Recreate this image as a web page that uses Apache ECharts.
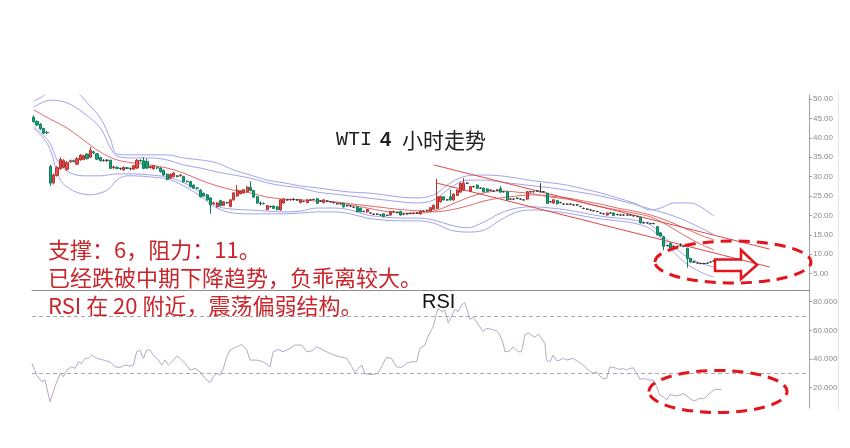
<!DOCTYPE html>
<html><head><meta charset="utf-8">
<script src="https://cdn.jsdelivr.net/npm/echarts@6/dist/echarts.min.js"></script>
<style>html,body{margin:0;padding:0;background:#fff}#c{width:850px;height:448px}</style>
</head><body><div id="c"></div>
<script>
// ---- price candles: [open, close, low, high] ----
const candles = [
[45.3,44.2,43.8,45.8],[44.2,43.3,43.0,44.5],[43.5,42.3,42.0,43.8],[42.4,41.2,40.9,42.6],[41.4,41.3,40.9,41.7],
[32.6,28.3,27.6,33.0],[28.4,30.4,28.0,30.8],[30.3,32.3,30.0,32.7],[32.0,34.4,31.8,35.0],[32.4,34.1,32.2,34.5],
[31.9,33.6,31.5,34.0],[33.8,34.1,33.6,34.4],[34.1,33.9,33.6,34.4],[33.2,34.6,33.0,35.0],[34.3,35.5,34.1,35.8],
[34.4,35.4,34.2,35.6],[35.8,34.6,34.4,36.0],[35.0,36.8,34.8,37.6],[36.4,36.1,35.8,36.7],[35.9,34.5,34.3,36.1],
[34.9,34.1,33.9,35.1],[34.1,34.1,33.9,34.5],[34.2,34.2,33.8,34.5],[34.2,32.1,31.9,34.4],[32.3,32.5,32.0,32.8],
[32.4,32.1,31.9,32.6],[32.1,32.1,31.7,32.3],[31.7,32.4,31.5,32.6],[32.3,32.1,31.9,32.5],[32.1,32.1,31.6,32.3],
[31.9,32.8,31.7,33.0],[32.2,34.2,32.0,34.5],[34.2,34.0,33.7,34.4],[34.1,32.1,31.9,35.0],[33.9,32.2,32.0,34.6],
[32.3,32.6,32.1,32.8],[32.0,32.8,31.8,33.0],[32.4,32.2,31.9,32.6],[32.2,31.3,31.0,32.4],[31.6,30.4,30.2,31.8],
[30.6,29.3,29.0,30.8],[29.6,30.6,29.4,30.8],[30.0,30.9,29.8,31.2],[30.2,30.0,29.8,30.4],[30.2,30.4,30.0,30.6],
[30.0,28.7,28.5,30.2],[28.8,28.7,28.4,29.0],[28.7,27.4,27.2,28.9],[27.8,27.0,26.8,28.0],[27.1,27.0,26.7,27.3],
[26.5,24.8,24.6,26.8],[25.7,25.0,24.8,25.9],[25.3,24.0,23.8,25.5],[24.5,22.7,20.4,24.7],[23.0,23.2,22.8,23.4],
[22.2,23.2,22.0,23.4],[23.8,22.5,22.3,24.0],[22.6,23.5,22.4,23.7],[23.3,23.3,23.0,23.5],[22.3,24.0,22.1,24.2],
[24.0,25.8,23.8,26.0],[25.0,26.5,24.8,27.8],[25.6,26.3,25.4,26.5],[25.8,26.6,25.6,26.8],[26.1,27.3,25.9,27.5],
[27.2,26.4,26.2,28.8],[26.4,24.7,24.5,26.6],[24.8,23.2,23.0,25.0],[23.1,23.1,22.6,23.6],[23.1,23.0,22.8,23.3],
[21.5,22.5,21.3,22.7],[22.3,22.3,22.0,22.5],[22.4,21.8,21.6,22.6],[22.2,21.5,21.3,22.4],[21.4,24.0,21.2,24.2],
[23.2,24.2,23.0,24.4],[24.0,24.0,23.8,24.2],[24.0,24.1,23.8,24.3],[24.1,24.1,23.8,24.5],[24.0,24.0,23.8,24.2],
[23.3,24.0,23.1,24.2],[23.6,23.6,23.4,23.8],[23.3,24.0,23.1,24.2],[24.0,24.0,23.8,24.2],[24.1,24.1,23.9,24.3],
[24.3,23.1,22.9,24.5],[23.7,23.7,23.5,23.9],[23.3,24.0,23.1,24.2],[23.7,23.7,23.5,23.9],[23.5,23.5,23.3,23.7],
[23.3,23.3,23.1,23.5],[23.0,23.0,22.8,23.2],[23.0,23.0,22.8,23.2],[23.1,22.2,22.0,23.3],[22.5,22.5,22.3,22.7],
[22.4,22.4,22.2,22.6],[22.1,22.1,21.9,22.3],[22.2,21.0,20.8,22.4],[21.8,21.0,20.8,22.0],[21.0,21.0,20.8,21.2],
[20.9,21.5,20.7,21.7],[20.6,20.6,20.4,20.8],[20.3,20.3,20.1,20.5],[20.3,20.3,20.1,20.5],[20.1,20.1,19.9,20.3],
[20.4,19.7,19.5,20.6],[20.0,20.0,19.8,20.2],[20.1,21.0,19.9,21.2],[21.0,21.0,20.8,21.2],[20.8,20.8,20.6,21.0],
[21.0,20.1,19.9,21.2],[20.3,20.3,20.1,20.5],[20.4,20.4,20.2,20.6],[20.5,20.5,20.3,20.7],[20.5,20.6,20.3,20.8],
[20.6,20.6,20.4,20.8],[20.4,21.1,20.2,21.3],[21.1,21.1,20.9,21.3],[21.3,21.3,21.1,21.5],[21.1,22.0,20.9,22.2],
[21.6,22.6,21.4,22.8],[21.8,24.8,21.6,29.4],[23.5,24.8,23.3,25.0],[24.8,24.0,23.8,25.0],[24.0,24.0,23.8,24.2],
[24.8,24.0,23.8,26.6],[24.0,25.5,23.8,25.7],[25.2,26.5,25.0,26.7],[26.0,28.3,25.8,28.5],[26.5,28.3,26.3,29.6],
[28.3,28.3,28.1,28.5],[26.2,27.4,26.0,27.6],[27.4,27.4,27.2,27.6],[27.8,27.0,26.8,28.0],[27.0,27.0,26.8,27.2],
[27.0,26.1,25.9,27.2],[26.8,26.2,26.0,27.0],[26.5,26.5,26.3,26.7],[26.3,26.3,26.1,26.5],[26.5,26.5,26.3,26.7],
[26.9,26.0,25.8,27.5],[26.1,26.1,25.9,26.3],[26.1,24.0,23.8,26.3],[24.2,24.2,24.0,24.4],[24.2,24.2,24.0,24.4],
[24.4,24.4,24.2,24.6],[24.2,24.2,24.0,24.4],[24.0,24.0,23.8,24.2],[24.2,26.1,24.0,26.3],[26.1,26.1,25.9,26.3],
[26.1,26.1,25.9,26.3],[26.3,26.3,26.1,26.5],[26.1,26.1,25.9,28.3],[26.1,26.1,25.9,26.3],[25.7,23.1,22.9,25.9],
[23.5,23.5,23.3,23.7],[23.2,24.0,23.0,24.2],[23.8,23.0,22.8,24.0],[23.3,23.3,23.1,23.5],[22.9,22.9,22.7,23.1],
[22.9,22.9,22.7,23.1],[22.9,22.9,22.7,23.1],[22.7,22.7,22.5,22.9],[22.7,22.7,22.5,22.9],[22.3,22.3,22.1,22.5],
[21.8,21.8,21.6,22.0],[21.6,21.6,21.4,21.8],[21.4,21.4,21.2,21.6],[21.2,21.2,21.0,21.4],[21.0,21.0,20.8,21.2],
[20.6,20.6,20.4,20.8],[20.4,20.4,20.2,20.6],[20.1,20.6,19.9,20.8],[20.6,20.6,20.4,20.8],[20.6,20.0,19.8,20.8],
[20.2,20.2,20.0,20.4],[20.1,20.1,19.9,20.3],[20.1,20.1,19.9,20.3],[20.1,20.1,19.9,20.3],[20.1,20.1,19.9,20.3],
[19.9,19.9,19.7,20.1],[19.7,19.7,19.5,19.9],[19.5,18.1,17.9,19.7],[18.1,18.1,17.9,18.3],[18.1,18.1,17.9,18.3],
[17.9,17.9,17.7,18.1],[17.9,17.9,17.7,18.1],[17.1,15.0,14.8,17.3],[15.5,14.7,14.5,15.7],[14.5,12.0,11.0,14.7],
[12.2,12.2,12.0,12.4],[12.8,11.5,11.3,13.0],[12.0,12.0,11.8,12.2],[12.0,12.0,11.8,12.2],[12.2,12.2,12.0,12.8],
[12.0,12.0,11.8,12.2],[11.5,8.9,6.5,11.7],[8.9,8.0,7.8,9.1],[8.0,8.0,7.8,8.2],[7.7,7.7,7.5,7.9],
[7.6,7.6,7.4,7.8],[7.6,7.6,7.4,7.8],[7.7,7.7,7.5,7.9],[8.0,8.0,7.8,8.2],[8.2,8.2,8.0,8.4]
];
const slotCount = 233;

// ---- indicator lines: [candle index, value] ----
const upperOuter = [[0,49.5],[3,50.8],[5,52.3],[10,53.6],[14,51.0],[15,50.0],[20,45.1],[23,39.7],[25,35.8],[30,35.6],[35,35.6],[40,35.6],[45,34.8],[50,34.3],[55,33.5],[60,31.7],[65,30.4],[70,29.1],[75,28.4],[80,27.6],[85,27.1],[90,26.5],[95,26.0],[100,25.8],[105,25.3],[110,24.7],[115,24.5],[120,25.3],[125,28.4],[130,30.2],[135,30.4],[140,30.2],[145,29.6],[150,28.9],[155,28.4],[160,27.8],[165,26.8],[170,25.8],[175,24.5],[180,23.2],[185,21.4],[188,21.9],[192,23.2],[197,23.2],[200,22.2],[204,19.8]];
const upperInner = [[0,47.9],[5,49.7],[10,49.0],[15,46.4],[20,42.5],[23,37.4],[25,35.3],[30,34.8],[35,34.8],[40,34.3],[45,33.0],[50,32.2],[55,31.2],[60,30.4],[65,29.6],[70,28.4],[75,27.6],[80,27.1],[85,26.0],[90,25.5],[95,25.0],[100,24.5],[105,24.0],[110,23.5],[115,23.2],[120,24.0],[125,27.1],[130,29.1],[135,29.1],[140,28.6],[145,28.1],[150,27.6],[155,27.1],[160,26.5],[165,25.8],[170,25.0],[175,24.0],[180,22.9],[185,21.6],[190,20.4],[195,18.8],[200,16.8],[204,15.0]];
const midFast = [[0,47.2],[5,44.8],[10,42.5],[15,39.4],[20,36.3],[25,34.3],[30,33.5],[35,33.0],[40,32.2],[45,30.9],[50,29.1],[55,27.6],[60,26.5],[65,25.8],[70,24.7],[75,24.2],[80,24.0],[85,23.7],[90,23.5],[95,22.7],[100,21.9],[105,21.1],[110,20.6],[115,20.6],[120,21.1],[125,22.7],[130,24.5],[135,25.8],[140,26.3],[145,26.0],[150,25.5],[155,24.7],[160,24.2],[165,23.2],[170,22.2],[175,21.4],[180,20.6],[185,19.6],[190,17.5],[195,14.9],[200,12.6],[204,11.1]];
const midSlow = [[85,23.8],[90,23.5],[95,23.0],[100,22.5],[105,22.0],[110,21.5],[115,21.2],[120,20.9],[125,21.4],[130,22.4],[135,23.7],[140,24.5],[145,25.0],[150,25.3],[155,25.0],[160,24.5],[165,23.7],[170,22.9],[175,21.9],[180,21.1],[185,20.1],[190,18.6],[195,16.8],[200,14.9],[204,13.7]];
const lowerInner = [[0,43.0],[3,40.5],[5,38.5],[7,34.3],[10,31.4],[15,30.2],[20,30.2],[25,30.7],[30,30.7],[35,30.4],[40,29.9],[45,28.4],[50,26.0],[55,22.4],[60,21.6],[65,21.4],[70,21.1],[75,20.9],[80,21.1],[85,21.9],[90,21.9],[95,21.4],[100,20.1],[105,19.6],[110,19.3],[115,19.3],[120,18.8],[125,17.5],[130,16.8],[135,18.3],[140,20.6],[145,21.9],[150,22.2],[155,21.9],[160,21.4],[165,20.6],[170,19.8],[175,19.3],[180,18.8],[185,17.5],[190,13.7],[195,9.8],[200,7.7],[204,6.7]];
const lowerOuter = [[0,42.5],[3,39.8],[5,36.9],[8,29.1],[12,26.3],[17,25.3],[22,26.5],[25,29.1],[28,30.2],[30,30.2],[35,29.9],[40,29.4],[45,27.6],[50,25.0],[55,21.9],[60,20.6],[65,20.4],[70,20.4],[75,20.4],[80,20.6],[85,20.9],[90,20.9],[95,20.4],[100,19.3],[105,18.8],[110,18.6],[115,18.6],[120,18.0],[125,16.2],[130,15.7],[135,16.2],[140,18.8],[145,20.9],[150,21.4],[155,21.1],[160,20.6],[165,19.8],[170,19.1],[175,18.6],[180,18.0],[185,16.5],[190,12.4],[195,8.0],[200,5.4],[204,4.1]];
const trendUpper = [[120,33.0],[220.7,11.3]];
const trendLower = [[120.6,28.4],[220.7,6.7]];

// ---- RSI: [candle index, value] ----
const rsi = [[-0.5,36.9],[0.9,28.7],[2.4,24.1],[3.4,25.2],[4.9,10.1],[6.4,20.6],[7.9,29.9],[8.9,27.6],[9.9,32.2],[11.4,34.5],[12.4,33.4],[13.4,38.0],[14.4,36.9],[15.4,40.4],[16.4,40.4],[17.4,42.7],[18.9,40.4],[20.9,39.2],[22.9,38.0],[24.4,34.5],[25.9,34.1],[27.4,35.7],[28.9,35.0],[29.9,35.7],[30.9,45.0],[31.9,46.2],[32.9,40.4],[33.9,46.2],[34.9,46.2],[35.9,42.7],[37.4,39.2],[38.4,35.7],[39.4,39.2],[40.4,35.7],[41.9,39.2],[42.9,42.0],[43.9,40.4],[45.4,36.9],[46.9,32.2],[48.4,33.4],[49.9,31.0],[51.4,26.4],[52.9,23.4],[53.9,27.6],[54.9,29.9],[55.9,28.7],[56.9,33.4],[57.9,41.5],[58.9,46.2],[60.9,48.5],[62.4,50.2],[63.9,46.2],[64.9,39.2],[66.9,39.2],[68.8,38.0],[70.9,34.5],[71.8,45.0],[73.3,46.7],[74.8,45.0],[76.9,47.4],[78.3,49.7],[80.4,49.7],[81.9,45.0],[83.4,45.7],[84.9,48.5],[86.8,46.2],[88.8,43.9],[90.9,42.0],[93.9,40.4],[95.4,34.5],[96.3,30.3],[97.3,33.4],[98.4,35.7],[99.3,29.9],[100.3,29.2],[101.8,29.2],[103.3,29.9],[104.3,34.5],[105.8,41.1],[107.3,40.4],[108.8,34.5],[110.3,34.1],[111.8,36.9],[113.3,38.0],[114.8,38.0],[115.8,47.4],[117.3,49.7],[118.5,57.0],[119.8,62.5],[120.8,71.9],[121.3,75.4],[122.3,73.0],[123.3,74.2],[124.3,65.3],[125.3,69.5],[126.3,74.7],[127.3,73.0],[128.3,77.7],[129.3,79.3],[130.3,71.9],[130.8,67.7],[131.8,69.1],[132.8,66.0],[133.8,62.5],[134.8,59.0],[135.8,61.4],[137.3,60.7],[138.8,59.7],[139.8,56.7],[140.8,50.9],[141.3,45.0],[142.8,45.7],[143.8,48.5],[145.3,45.0],[146.3,45.0],[147.3,56.7],[148.3,58.3],[149.3,56.7],[150.3,55.1],[151.3,57.4],[152.3,54.4],[153.3,50.9],[153.8,39.2],[154.8,38.0],[155.8,42.7],[156.8,38.7],[157.8,39.2],[158.8,40.4],[159.8,39.2],[161.8,40.4],[163.3,38.0],[164.8,35.7],[166.3,32.2],[167.8,29.9],[168.8,31.0],[169.8,28.0],[170.8,26.2],[171.8,26.2],[172.8,34.5],[173.8,34.1],[174.8,33.4],[175.8,32.7],[176.8,33.4],[177.8,32.2],[178.8,33.4],[179.8,33.8],[180.8,30.3],[181.8,25.7],[182.8,26.4],[183.8,25.7],[184.8,25.2],[185.8,25.2],[186.8,20.6],[187.8,14.7],[188.8,13.6],[189.8,11.3],[190.8,15.2],[192.3,14.1],[193.8,14.8],[194.8,15.9],[195.8,14.1],[196.8,12.4],[197.8,10.6],[198.8,11.3],[199.8,12.4],[200.9,12.2],[201.9,14.1],[203.3,17.1],[204.3,18.7],[206.3,18.7]];
const rsiLevels = [70, 30];
const priceTicks = [5,10,15,20,25,30,35,40,45,50];
const rsiTicks = [20,40,60,80];

const slots = Array.from({length: slotCount}, (_, i) => String(i));
const BLUE = '#a3a3ec', RED = '#e26a6a', TREND = '#e04848';
function band(data, color) {
  return {type:'line', xAxisIndex:1, yAxisIndex:0, data, symbol:'none', smooth:0.35,
    lineStyle:{color, width:1}, silent:true, z:3};
}

const chart = echarts.init(document.getElementById('c'));
chart.setOption({
  animation:false,
  backgroundColor:'#fff',
  grid:[
    {left:32, right:41, top:95, height:195},
    {left:32, right:41, top:290, height:118}
  ],
  xAxis:[
    {type:'category', gridIndex:0, data:slots, boundaryGap:true,
     axisLine:{show:true, onZero:false, lineStyle:{color:'#8c8c8c', width:1}}, axisTick:{show:false}, axisLabel:{show:false}, splitLine:{show:false}},
    {type:'value', gridIndex:0, min:-0.5, max:slotCount-0.5, show:false, axisLine:{onZero:false}},
    {type:'value', gridIndex:1, min:-0.5, max:slotCount-0.5, show:false, axisLine:{onZero:false}}
  ],
  yAxis:[
    {type:'value', gridIndex:0, position:'right', min:0.77, max:51.03, splitLine:{show:false},
     axisLine:{show:true, onZero:false, lineStyle:{color:'#a0a0a0'}},
     axisTick:{show:true, length:3, customValues:priceTicks, lineStyle:{color:'#a0a0a0'}},
     axisLabel:{customValues:priceTicks, formatter:v=>v.toFixed(2), color:'#8a8a8a', fontSize:8, margin:4, fontFamily:'Liberation Sans'}},
    {type:'value', gridIndex:1, position:'right', min:5.7, max:88.2, splitLine:{show:false},
     axisLine:{show:true, onZero:false, lineStyle:{color:'#a0a0a0'}},
     axisTick:{show:true, length:3, customValues:rsiTicks, lineStyle:{color:'#a0a0a0'}},
     axisLabel:{customValues:rsiTicks, formatter:v=>v.toFixed(4), color:'#8a8a8a', fontSize:8, margin:4, fontFamily:'Liberation Sans'}}
  ],
  series:[
    band(upperOuter, BLUE), band(upperInner, BLUE), band(lowerInner, BLUE), band(lowerOuter, BLUE),
    band(midSlow, RED), band(midFast, RED),
    {type:'line', xAxisIndex:1, yAxisIndex:0, data:trendUpper, symbol:'none', lineStyle:{color:TREND, width:1}, z:4, clip:false},
    {type:'line', xAxisIndex:1, yAxisIndex:0, data:trendLower, symbol:'none', lineStyle:{color:TREND, width:1}, z:4, clip:false},
    {type:'candlestick', xAxisIndex:0, yAxisIndex:0, data:candles, barWidth:2.6, z:5,
     itemStyle:{color:'#e4504c', color0:'#18a076', borderColor:'#b83030', borderColor0:'#10805c', borderColorDoji:'#3a3a3a', borderWidth:1}},
    {type:'line', xAxisIndex:2, yAxisIndex:1, data:rsi, symbol:'none', lineStyle:{color:'#b9a7c3', width:1},
     markLine:{silent:true, symbol:'none', label:{show:false},
       lineStyle:{color:'#a8a8a8', type:[4,3], width:1},
       data:rsiLevels.map(v=>({yAxis:v}))}}
  ],
  graphic:[
    {type:'rect', shape:{x:838, y:288, width:12, height:140}, style:{fill:'#fff'}, z:100},
    {type:'line', shape:{x1:838.5, y1:92, x2:838.5, y2:410}, style:{stroke:'#e4e4e4', lineWidth:1}, z:101},
    {type:'text', x:336, y:140, style:{text:'WTI', fill:'#222', font:'20px "Liberation Mono"', verticalAlign:'middle'}, z:50},
    {type:'text', x:380, y:140, style:{text:'4', fill:'#222', font:'bold 20px "Liberation Sans"', verticalAlign:'middle'}, z:50},
    {type:'text', x:402, y:140, style:{text:'小时走势', fill:'#222', font:'21px "Noto Sans CJK SC"', verticalAlign:'middle'}, z:50},
    {type:'text', x:48, y:249.5, style:{text:'支撑：6，阻力：11。', fill:'#c8262c', font:'22px "Noto Sans CJK SC"', verticalAlign:'middle'}, z:50},
    {type:'text', x:48, y:277.5, style:{text:'已经跌破中期下降趋势，负乖离较大。', fill:'#c8262c', font:'22px "Noto Sans CJK SC"', verticalAlign:'middle'}, z:50},
    {type:'text', x:48, y:306, style:{text:'RSI 在 20 附近，震荡偏弱结构。', fill:'#c8262c', font:'22px "Noto Sans CJK SC"', verticalAlign:'middle'}, z:50},
    {type:'text', x:422, y:302.5, style:{text:'RSI', fill:'#111', font:'20px "Liberation Sans"', verticalAlign:'middle'}, z:50},
    {type:'ellipse', shape:{cx:733, cy:262, rx:78, ry:21}, style:{fill:null, stroke:'#e4141c', lineWidth:3, lineDash:[11,7]}, z:60},
    {type:'ellipse', shape:{cx:718, cy:391.5, rx:69, ry:21}, style:{fill:null, stroke:'#e4141c', lineWidth:3, lineDash:[11,7]}, z:60},
    {type:'polygon', shape:{points:[[715,259.5],[741,259.5],[741,250],[757,265],[741,279],[741,271],[715,271]]},
     style:{fill:null, stroke:'#e4141c', lineWidth:2.5}, z:60}
  ]
});
</script></body></html>
